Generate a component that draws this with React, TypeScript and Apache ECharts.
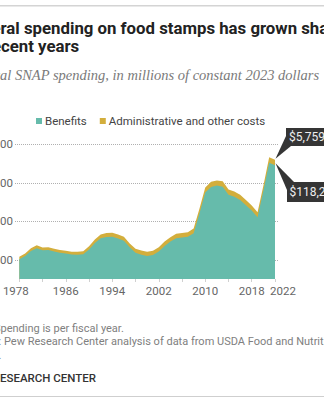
import React, { useEffect, useRef } from "react";
import * as echarts from "echarts";

const years = [
  1978, 1979, 1980, 1981, 1982, 1983, 1984, 1985, 1986, 1987, 1988, 1989,
  1990, 1991, 1992, 1993, 1994, 1995, 1996, 1997, 1998, 1999,
  2000, 2001, 2002, 2003, 2004, 2005, 2006, 2007, 2008, 2009,
  2010, 2011, 2012, 2013, 2014, 2015, 2016, 2017, 2018, 2019,
  2020, 2021, 2022,
];
const benefits = [
  20600, 23900, 29100, 32000, 29900, 30100, 28600, 27300, 26400, 25500, 25300, 25800,
  30700, 37400, 42300, 43700, 43800, 42100, 39800, 32900, 27300, 25200,
  23900, 24900, 28500, 34400, 38900, 42300, 43100, 43800, 47600, 68000,
  89800, 95700, 97100, 96000, 87600, 85600, 82200, 76700, 71300, 64300,
  91600, 120800, 118200,
];
const adminCosts = [
  2400, 2600, 2900, 3000, 2900, 2900, 2900, 2900, 2900, 2900, 3000, 3100,
  3300, 3600, 3900, 4100, 4200, 4200, 4200, 4100, 4200, 4300,
  4300, 4400, 4500, 4600, 4600, 4700, 4700, 4700, 4800, 5000,
  5200, 5300, 5400, 5500, 5400, 5400, 5300, 5300, 5200, 5200,
  5400, 5700, 5759,
];
const xLabelYears = [1978, 1986, 1994, 2002, 2010, 2018, 2022];
const xTickYears = [1978, 1982, 1986, 1990, 1994, 1998, 2002, 2006, 2010, 2014, 2018, 2022];
const yGridValues = [20000, 60000, 100000, 140000];
const seriesNames = ["Benefits", "Administrative and other costs"];
const titleLines = ["Federal spending on food stamps has grown sharply", "in recent years"];
const subtitleText = "Federal SNAP spending, in millions of constant 2023 dollars";
const noteLines = [
  "Note: Spending is per fiscal year.",
  "Source: Pew Research Center analysis of data from USDA Food and Nutrition",
  "Service.",
];
const brandText = "PEW RESEARCH CENTER";
const calloutAdmin = "$5,759";
const calloutBenefits = "$118,200";

const TEAL = "#66bbab";
const GOLD = "#d3ae3c";
const SANS = "Roboto, 'Liberation Sans', sans-serif";
const SERIF = "'Liberation Serif', 'DejaVu Serif', serif";

function measure(text: string, font: string): number {
  const c = document.createElement("canvas").getContext("2d");
  if (!c) return 0;
  c.font = font;
  return c.measureText(text).width;
}

function fmtNum(v: number): string {
  return v.toLocaleString("en-US");
}

export default function App() {
  const ref = useRef<HTMLDivElement>(null);

  useEffect(() => {
    document.body.style.margin = "0";
    if (!ref.current) return;
    const chart = echarts.init(ref.current, null, { renderer: "svg" });

    const titleFont = `bold 16.8px ${SANS}`;
    const subFont = `italic 14.5px ${SERIF}`;
    const noteFont = `11px ${SANS}`;
    const brandFont = `500 11.5px ${SANS}`;

    const textEl = (text: string, x: number, y: number, font: any) => ({
      type: "text",
      x,
      y,
      silent: true,
      style: {
        text,
        fill: font.fill,
        fontFamily: font.family,
        fontSize: font.size,
        fontWeight: font.weight || "normal",
        fontStyle: font.style || "normal",
        textAlign: "left",
        textVerticalAlign: "middle",
      },
    });

    const staticGraphic: any[] = [
      { type: "rect", shape: { x: 0, y: 5, width: 324, height: 1.5 }, style: { fill: "#d4d4d4" }, silent: true },
      textEl(titleLines[0], 0.5 - measure("Fede", titleFont), 27.5, { fill: "#222", family: SANS, size: 16.8, weight: "bold" }),
      textEl(titleLines[1], 1 - measure("in re", titleFont), 46, { fill: "#222", family: SANS, size: 16.8, weight: "bold" }),
      textEl(subtitleText, 0 - measure("Feder", subFont), 75, { fill: "#7a7a7a", family: SERIF, size: 14.5, style: "italic" }),
      textEl(noteLines[0], 0.5 - measure("Note: S", noteFont), 328, { fill: "#808080", family: SANS, size: 11 }),
      textEl(noteLines[1], 4 - measure("Source: ", noteFont), 341.5, { fill: "#808080", family: SANS, size: 11 }),
      textEl(noteLines[2], 1.5 - measure("Service.", noteFont), 355, { fill: "#808080", family: SANS, size: 11 }),
      textEl(brandText, 0 - measure("PEW R", brandFont), 378, { fill: "#333", family: SANS, size: 11.5, weight: 500 }),
      { type: "rect", shape: { x: 0, y: 396, width: 324, height: 1 }, style: { fill: "#cfcfcf" }, silent: true },
    ];

    const totals = years.map((y, i) => [y, benefits[i] + adminCosts[i]]);

    const option: any = {
      animation: false,
      color: [TEAL, GOLD],
      grid: { left: 15, right: 45.7, top: 144.3, bottom: 121, containLabel: false, outerBoundsMode: "none" },
      legend: {
        data: seriesNames,
        left: 31,
        top: 110,
        icon: "rect",
        itemWidth: 6,
        itemHeight: 6,
        itemGap: 13,
        textStyle: { fontFamily: SANS, fontSize: 11.5, color: "#444", padding: [0, 0, 0, -2] },
      },
      xAxis: {
        type: "value",
        min: 1977.26,
        max: 2022.57,
        splitLine: { show: false },
        axisLine: { show: false },
        axisTick: {
          show: true,
          customValues: xTickYears,
          length: 3,
          lineStyle: { color: "#d0d0d0" },
        },
        axisLabel: {
          customValues: xLabelYears,
          margin: 6,
          color: "#666",
          fontFamily: SANS,
          fontSize: 11.5,
          formatter: (v: number) => {
            const s = String(Math.round(v));
            if (Math.round(v) === xLabelYears[0]) return `{first|${s}}`;
            if (Math.round(v) === xLabelYears[xLabelYears.length - 1]) return `{last|${s}}`;
            return s;
          },
          rich: {
            first: { color: "#666", fontFamily: SANS, fontSize: 11.5, padding: [0, 7, 0, 0] },
            last: { color: "#666", fontFamily: SANS, fontSize: 11.5, padding: [0, 0, 0, 16] },
          },
        },
      },
      yAxis: {
        type: "value",
        min: 0,
        max: 140000,
        interval: 20000,
        axisLine: { show: false },
        axisTick: { show: false },
        axisLabel: {
          margin: 2,
          color: "#666",
          fontFamily: SANS,
          fontSize: 11.5,
          formatter: (v: number) => (yGridValues.indexOf(v) >= 0 ? (v === 140000 ? "$" : "") + fmtNum(v) : ""),
        },
        splitLine: {
          show: true,
          lineStyle: { color: ["rgba(0,0,0,0)", "#b0b0b0"], type: "dotted", width: 1 },
        },
      },
      series: [
        {
          name: seriesNames[1],
          type: "line",
          symbol: "none",
          data: totals,
          lineStyle: { width: 0 },
          areaStyle: { color: GOLD, opacity: 1 },
          itemStyle: { color: GOLD },
        },
        {
          name: seriesNames[0],
          type: "line",
          symbol: "none",
          data: years.map((y, i) => [y, benefits[i]]),
          lineStyle: { width: 0 },
          areaStyle: { color: TEAL, opacity: 1 },
          itemStyle: { color: TEAL },
        },
      ],
      graphic: staticGraphic,
    };
    chart.setOption(option);

    const last = years.length - 1;
    const pTotal = chart.convertToPixel({ gridIndex: 0 }, totals[last]) as number[];
    const pBen = chart.convertToPixel({ gridIndex: 0 }, [years[last], benefits[last]]) as number[];
    const BOX = "#353535";
    const callouts: any[] = [
      { type: "polygon", shape: { points: [[286, 136], [pTotal[0] + 0.5, pTotal[1] - 1], [291, 146]] }, style: { fill: BOX }, silent: true },
      { type: "rect", shape: { x: 286, y: 128, width: 70, height: 18 }, style: { fill: BOX }, silent: true },
      { type: "text", x: 289, y: 137, silent: true, style: { text: calloutAdmin, fill: "#eeeeee", fontFamily: SANS, fontSize: 12, textVerticalAlign: "middle" } },
      { type: "polygon", shape: { points: [[pBen[0] + 0.5, pBen[1] - 2], [294, 182], [287, 190]] }, style: { fill: BOX }, silent: true },
      { type: "rect", shape: { x: 287, y: 182, width: 70, height: 20 }, style: { fill: BOX }, silent: true },
      { type: "text", x: 289.5, y: 192, silent: true, style: { text: calloutBenefits, fill: "#eeeeee", fontFamily: SANS, fontSize: 12, textVerticalAlign: "middle" } },
    ];
    chart.setOption({ graphic: staticGraphic.concat(callouts) });

    return () => chart.dispose();
  }, []);

  return <div ref={ref} style={{ width: 324, height: 400 }} />;
}
